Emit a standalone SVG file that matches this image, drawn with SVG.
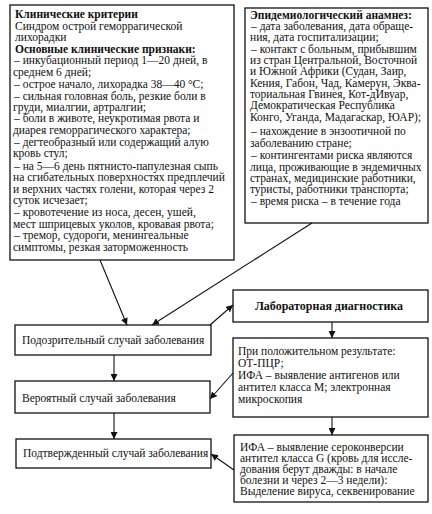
<svg xmlns="http://www.w3.org/2000/svg" width="432" height="514" viewBox="0 0 432 514">
<defs>
<style>
.box{fill:#fff;stroke:#111;stroke-width:1.3}
text{font-family:"Liberation Serif","Times New Roman",serif;font-size:11.5px;fill:#111}
.b{font-weight:bold}
.t{font-size:12px}
.c{stroke:#111;stroke-width:1.1;fill:none}
</style>
<marker id="ah" viewBox="0 0 10 10" refX="10" refY="5" markerWidth="7" markerHeight="7" markerUnits="userSpaceOnUse" orient="auto"><path d="M0,0 L10,5 L0,10 z" fill="#111"/></marker>
</defs>
<rect width="432" height="514" fill="#fff"/>
<g id="clinical">
<rect class="box" x="10" y="5" width="224" height="255"/>
<text x="15" y="18" class="b">Клинические критерии</text>
<text x="15" y="30">Синдром острой геморрагической</text>
<text x="15" y="41">лихорадки</text>
<text x="15" y="53" class="b">Основные клинические признаки:</text>
<text x="14" y="64"> – инкубационный период 1—20 дней, в</text>
<text x="13" y="76">среднем 6 дней;</text>
<text x="14" y="88"> – острое начало, лихорадка 38—40 °С;</text>
<text x="14" y="100"> – сильная головная боль, резкие боли в</text>
<text x="13" y="111">груди, миалгии, артралгии;</text>
<text x="14" y="122"> – боли в животе, неукротимая рвота и</text>
<text x="13" y="134">диарея геморрагического характера;</text>
<text x="14" y="146"> – дегтеобразный или содержащий алую</text>
<text x="13" y="157">кровь стул;</text>
<text x="14" y="170"> – на 5—6 день пятнисто-папулезная сыпь</text>
<text x="13" y="181">на сгибательных поверхностях предплечий</text>
<text x="13" y="193">и верхних частях голени, которая через 2</text>
<text x="13" y="204">суток исчезает;</text>
<text x="14" y="216"> – кровотечение из носа, десен, ушей,</text>
<text x="13" y="228">мест шприцевых уколов, кровавая рвота;</text>
<text x="14" y="239"> – тремор, судороги, менингеальные</text>
<text x="13" y="251">симптомы, резкая заторможенность</text>
</g>
<g id="epid">
<rect class="box" x="245" y="8" width="183" height="215"/>
<text x="250" y="19" class="b">Эпидемиологический анамнез:</text>
<text x="251" y="30"> – дата заболевания, дата обраще-</text>
<text x="250" y="41">ния, дата госпитализации;</text>
<text x="251" y="53"> – контакт с больным, прибывшим</text>
<text x="250" y="64">из стран Центральной, Восточной</text>
<text x="250" y="75">и Южной Африки (Судан, Заир,</text>
<text x="250" y="87">Кения, Габон, Чад, Камерун, Эква-</text>
<text x="250" y="98">ториальная Гвинея, Кот-дИвуар,</text>
<text x="250" y="109">Демократическая Республика</text>
<text x="250" y="121">Конго, Уганда, Мадагаскар, ЮАР);</text>
<text x="251" y="135"> – нахождение в энзоотичной по</text>
<text x="250" y="147">заболеванию стране;</text>
<text x="251" y="159"> – контингентами риска являются</text>
<text x="250" y="171">лица, проживающие в эндемичных</text>
<text x="250" y="182">странах, медицинские работники,</text>
<text x="250" y="193">туристы, работники транспорта;</text>
<text x="251" y="205"> – время риска – в течение года</text>
</g>
<g id="suspect">
<rect class="box" x="15" y="325" width="196" height="30"/>
<text x="22" y="344">Подозрительный случай заболевания</text>
</g>
<g id="probable">
<rect class="box" x="15" y="381" width="195" height="32"/>
<text x="22" y="402">Вероятный случай заболевания</text>
</g>
<g id="confirmed">
<rect class="box" x="16" y="439" width="195" height="29"/>
<text x="23" y="457">Подтвержденный случай заболевания</text>
</g>
<g id="lab">
<rect class="box" x="233" y="290" width="195" height="32"/>
<text x="329" y="310" class="b t" text-anchor="middle">Лабораторная диагностика</text>
</g>
<g id="positive">
<rect class="box" x="233" y="338" width="195" height="79"/>
<text x="238" y="355">При положительном результате:</text>
<text x="238" y="367">ОТ-ПЦР;</text>
<text x="238" y="379">ИФА – выявление антигенов или</text>
<text x="238" y="391">антител класса М; электронная</text>
<text x="238" y="403">микроскопия</text>
</g>
<g id="ifa">
<rect class="box" x="234" y="435" width="194" height="67"/>
<text x="240" y="451">ИФА – выявление сероконверсии</text>
<text x="240" y="462">антител класса G (кровь для иссле-</text>
<text x="240" y="473">дования берут дважды: в начале</text>
<text x="240" y="484">болезни и через 2—3 недели):</text>
<text x="240" y="495">Выделение вируса, секвенирование</text>
</g>
<g id="connectors">
<line class="c" x1="100" y1="260" x2="127" y2="325" marker-end="url(#ah)"/>
<line class="c" x1="312" y1="223" x2="152" y2="325" marker-end="url(#ah)"/>
<line class="c" x1="210" y1="325" x2="233" y2="305" marker-end="url(#ah)"/>
<line class="c" x1="114" y1="355" x2="114" y2="381" marker-end="url(#ah)"/>
<line class="c" x1="114" y1="413" x2="114" y2="439" marker-end="url(#ah)"/>
<line class="c" x1="332" y1="322" x2="332" y2="338" marker-end="url(#ah)"/>
<line class="c" x1="233" y1="373" x2="210" y2="399" marker-end="url(#ah)"/>
<line class="c" x1="332" y1="417" x2="332" y2="435" marker-end="url(#ah)"/>
<line class="c" x1="234" y1="470" x2="211" y2="454" marker-end="url(#ah)"/>
</g>
</svg>
